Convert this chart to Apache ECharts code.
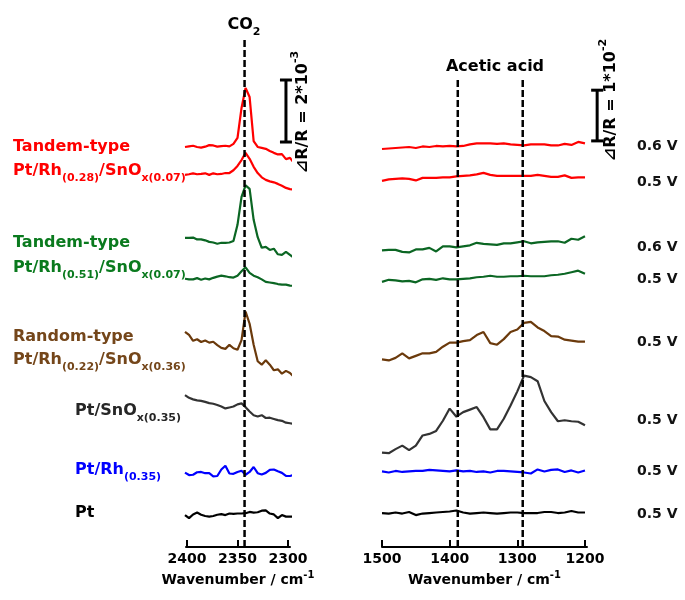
<!DOCTYPE html>
<html>
<head>
<meta charset="utf-8">
<script src="https://cdn.jsdelivr.net/npm/echarts@6/dist/echarts.min.js"></script>
<style>
  html, body { margin: 0; padding: 0; background: #fff; }
  #chart { width: 685px; height: 600px; }
</style>
</head>
<body>
<div id="chart"></div>
<script>
// ==================== Data ====================
// left panel: CO2 region, values are ΔR/R in units of 10^-3, relative to trace start
const leftWn = [2402, 2398, 2394, 2390, 2386, 2382, 2378, 2374, 2370, 2366, 2362, 2358, 2354, 2350,
  2346, 2342, 2338, 2334, 2330, 2326, 2322, 2318, 2314, 2310, 2306, 2302, 2298, 2294];
// right panel: acetic acid region, values are ΔR/R in units of 10^-2
const rightWn = [1500, 1490, 1480, 1470, 1460, 1450, 1440, 1430, 1420, 1410, 1400, 1390, 1380, 1370,
  1360, 1350, 1340, 1330, 1320, 1310, 1300, 1290, 1280, 1270, 1260, 1250, 1240, 1230, 1220, 1210, 1200];

const leftRed06 = [0, 0.02, 0.04, 0, -0.02, 0.01, 0.06, 0.05, 0.01, 0.03, 0.04, 0.02, 0.10, 0.29, 1.26, 1.90, 1.61, 0.19, 0, -0.03, -0.06, -0.13, -0.19, -0.24, -0.23, -0.39, -0.35, -0.52];
const leftRed05 = [0, 0.02, 0.05, 0.02, 0.03, 0.05, 0, 0.05, 0.02, 0.03, 0.06, 0.06, 0.15, 0.29, 0.48, 0.71, 0.52, 0.26, 0.06, -0.08, -0.16, -0.21, -0.24, -0.29, -0.35, -0.42, -0.46, -0.48];
const leftGreen06 = [0, 0, 0.01, -0.05, -0.05, -0.08, -0.13, -0.15, -0.19, -0.16, -0.16, -0.15, -0.10, 0.42, 1.32, 1.69, 1.58, 0.58, 0.02, -0.32, -0.29, -0.39, -0.35, -0.53, -0.55, -0.45, -0.55, -0.65];
const leftGreen05 = [0, -0.02, -0.02, 0.02, -0.03, 0.01, -0.02, 0.03, 0.07, 0.10, 0.08, 0.05, 0.04, 0.10, 0.24, 0.37, 0.19, 0.10, 0.05, -0.02, -0.10, -0.12, -0.14, -0.17, -0.19, -0.19, -0.22, -0.23];
const leftBrown = [0, -0.10, -0.29, -0.24, -0.33, -0.28, -0.35, -0.32, -0.43, -0.52, -0.55, -0.42, -0.53, -0.58, -0.27, 0.65, 0.26, -0.42, -0.95, -1.06, -0.92, -1.06, -1.24, -1.21, -1.35, -1.26, -1.33, -1.45];
const leftGray = [0, -0.09, -0.14, -0.17, -0.19, -0.22, -0.26, -0.28, -0.32, -0.37, -0.43, -0.40, -0.37, -0.30, -0.27, -0.39, -0.53, -0.65, -0.69, -0.65, -0.74, -0.73, -0.77, -0.81, -0.83, -0.89, -0.91, -0.94];
const leftBlue = [0.01, -0.07, -0.06, 0.02, 0.03, -0.01, -0.01, -0.11, -0.10, 0.11, 0.23, -0.02, -0.03, 0.03, 0.07, -0.06, 0.03, 0.19, -0.01, -0.05, 0, 0.10, 0.11, 0.05, 0, -0.10, -0.10, -0.06];
const leftBlack = [0, -0.10, 0.02, 0.08, 0.01, -0.03, -0.05, -0.03, 0.01, 0.03, 0, 0.05, 0.04, 0.05, 0.05, 0.06, 0.10, 0.08, 0.09, 0.14, 0.15, 0.05, 0.02, -0.10, 0, -0.05, -0.05, -0.05];

const rightRed06 = [0, 0.01, 0.02, 0.03, 0.04, 0.02, 0.05, 0.04, 0.06, 0.05, 0.06, 0.05, 0.06, 0.09, 0.11, 0.11, 0.11, 0.10, 0.11, 0.09, 0.08, 0.07, 0.09, 0.09, 0.09, 0.07, 0.07, 0.10, 0.08, 0.14, 0.11];
const rightRed05 = [0, 0.03, 0.04, 0.05, 0.04, 0.01, 0.06, 0.06, 0.06, 0.07, 0.07, 0.09, 0.10, 0.11, 0.13, 0.16, 0.12, 0.10, 0.10, 0.10, 0.10, 0.10, 0.10, 0.12, 0.10, 0.08, 0.08, 0.11, 0.06, 0.07, 0.07];
const rightGreen06 = [0.01, 0.02, 0.02, -0.02, -0.03, 0.03, 0.03, 0.06, -0.01, 0.09, 0.09, 0.07, 0.09, 0.11, 0.16, 0.14, 0.13, 0.12, 0.15, 0.15, 0.17, 0.19, 0.15, 0.17, 0.18, 0.19, 0.19, 0.16, 0.24, 0.22, 0.29];
const rightGreen05 = [0, 0.04, 0.03, 0.01, 0.02, -0.01, 0.05, 0.06, 0.04, 0.07, 0.05, 0.05, 0.06, 0.07, 0.09, 0.10, 0.12, 0.10, 0.10, 0.11, 0.11, 0.12, 0.11, 0.11, 0.11, 0.13, 0.14, 0.16, 0.19, 0.22, 0.16];
const rightBrown = [0.01, -0.01, 0.04, 0.13, 0.03, 0.08, 0.13, 0.13, 0.16, 0.26, 0.34, 0.34, 0.37, 0.39, 0.49, 0.55, 0.33, 0.30, 0.41, 0.55, 0.60, 0.73, 0.75, 0.64, 0.57, 0.47, 0.46, 0.40, 0.38, 0.36, 0.36];
const rightGray = [-0.01, -0.02, 0.06, 0.13, 0.04, 0.13, 0.33, 0.36, 0.42, 0.62, 0.86, 0.70, 0.79, 0.84, 0.89, 0.69, 0.45, 0.45, 0.66, 0.92, 1.20, 1.51, 1.48, 1.40, 1.01, 0.79, 0.61, 0.63, 0.61, 0.60, 0.53];
const rightBlue = [0.01, -0.01, 0.02, 0, 0.01, 0.02, 0.02, 0.04, 0.03, 0.02, 0.01, 0.03, 0.01, 0.02, 0, 0.01, -0.01, 0.02, 0.02, 0.01, 0, -0.01, -0.03, 0.05, 0.01, 0.04, 0.05, 0, 0.03, -0.01, 0.03];
const rightBlack = [0, -0.01, 0.01, -0.01, 0.02, -0.04, -0.01, 0, 0.01, 0.02, 0.03, 0.05, 0.01, -0.01, 0, 0.01, 0, -0.01, 0, 0.01, 0.01, 0, 0, 0, 0.02, 0.02, 0, 0.01, 0.04, 0.01, 0.01];

// vertical stacking offsets (same units as the panel)
const leftOffsets = [12.9, 12.0, 9.97, 8.65, 6.94, 4.90, 2.39, 1.03];
const rightOffsets = [7.85, 7.22, 5.84, 5.23, 3.69, 1.87, 1.48, 0.67];

const traceColors = ['#ff0000', '#ff0000', '#0b6623', '#0b6623', '#6b3a0c', '#333333', '#0000ff', '#000000'];
const voltages = ['0.6 V', '0.5 V', '0.6 V', '0.5 V', '0.5 V', '0.5 V', '0.5 V', '0.5 V'];

const leftTicks = [2300, 2350, 2400];
const rightTicks = [1200, 1300, 1400, 1500];
const co2Band = 2343;
const aceticBands = [1388, 1292];

const F = 'DejaVu Sans';

const leftTraces = [leftRed06, leftRed05, leftGreen06, leftGreen05, leftBrown, leftGray, leftBlue, leftBlack];
const rightTraces = [rightRed06, rightRed05, rightGreen06, rightGreen05, rightBrown, rightGray, rightBlue, rightBlack];

// ==================== Series ====================
function traceSeries(wn, vals, offset, color, idx) {
  return {
    type: 'line', xAxisIndex: idx, yAxisIndex: idx,
    data: wn.map((w, k) => [w, +(vals[k] + offset).toFixed(3)]),
    symbol: 'none', clip: false, silent: true,
    lineStyle: { color, width: 2.2 }, z: 3
  };
}

function dashLine(idx, x, y0, y1) {
  return {
    type: 'line', xAxisIndex: idx, yAxisIndex: idx,
    data: [[x, y0], [x, y1]], symbol: 'none', clip: false, silent: true,
    lineStyle: { color: '#000', width: 2.5, type: [7, 3] }, z: 5
  };
}

function scaleBar(idx, x, y0, y1) {
  return {
    type: 'custom', xAxisIndex: idx, yAxisIndex: idx, clip: false, silent: true, z: 6,
    data: [[x, y0, y1]],
    renderItem(params, api) {
      const a = api.coord([api.value(0), api.value(1)]);
      const b = api.coord([api.value(0), api.value(2)]);
      const st = { stroke: '#000', lineWidth: 3 };
      return {
        type: 'group', children: [
          { type: 'line', shape: { x1: a[0], y1: a[1], x2: b[0], y2: b[1] }, style: st },
          { type: 'line', shape: { x1: a[0] - 6, y1: a[1], x2: a[0] + 6, y2: a[1] }, style: st },
          { type: 'line', shape: { x1: b[0] - 6, y1: b[1], x2: b[0] + 6, y2: b[1] }, style: st }
        ]
      };
    }
  };
}

const series = [];
leftTraces.forEach((t, i) => series.push(traceSeries(leftWn, t, leftOffsets[i], traceColors[i], 0)));
rightTraces.forEach((t, i) => series.push(traceSeries(rightWn, t, rightOffsets[i], traceColors[i], 1)));
series.push(dashLine(0, co2Band, 0, 16.35));
aceticBands.forEach(b => series.push(dashLine(1, b, 0, 9.23)));
series.push(scaleBar(0, 2302, 13.06, 15.06));   // 2*10^-3
series.push(scaleBar(1, 1182, 8.01, 9.01));     // 1*10^-2

// ==================== Text ====================
function richFor(color, size) {
  return {
    m: { fontSize: size, fontWeight: 'bold', fontFamily: F, fill: color, color, lineHeight: 26, verticalAlign: 'middle' },
    s: { fontSize: 11, fontWeight: 'bold', fontFamily: F, fill: color, color, lineHeight: 12, verticalAlign: 'bottom' },
    u: { fontSize: 11, fontWeight: 'bold', fontFamily: F, fill: color, color, lineHeight: 12, verticalAlign: 'top' }
  };
}

function label(text, x, y, color, opts) {
  opts = opts || {};
  return {
    type: 'text', x, y, rotation: opts.rotation || 0, silent: true, z: 10,
    style: {
      text, rich: richFor(color, opts.size || 16), fill: color,
      align: opts.align || 'left', textAlign: opts.align || 'left',
      verticalAlign: 'middle', textVerticalAlign: 'middle'
    }
  };
}

const red = '#ff0000', green = '#0a7a1e', brown = '#74461a', gray = '#262626';
const graphics = [
  label('{m|Tandem-type}', 13, 147, red),
  label('{m|Pt/Rh}{s|(0.28)}{m|/SnO}{s|x(0.07)}', 13, 171, red),
  label('{m|Tandem-type}', 13, 243, green),
  label('{m|Pt/Rh}{s|(0.51)}{m|/SnO}{s|x(0.07)}', 13, 268, green),
  label('{m|Random-type}', 13, 337, brown),
  label('{m|Pt/Rh}{s|(0.22)}{m|/SnO}{s|x(0.36)}', 13, 360, brown),
  label('{m|Pt/SnO}{s|x(0.35)}', 75, 411, gray),
  label('{m|Pt/Rh}{s|(0.35)}', 75, 470, '#0000ff'),
  label('{m|Pt}', 75, 513, '#000'),
  label('{m|CO}{s|2}', 244, 25, '#000', { align: 'center' }),
  label('{m|Acetic acid}', 495, 67, '#000', { align: 'center' }),
  label('{m|⊿R/R = 2*10}{u|-3}', 303, 112, '#000', { align: 'center', rotation: Math.PI / 2 }),
  label('{m|⊿R/R = 1*10}{u|-2}', 611, 100, '#000', { align: 'center', rotation: Math.PI / 2 })
];
const voltageY = [146, 182, 247, 279, 342, 420, 471, 514];
voltages.forEach((v, i) => graphics.push(label('{m|' + v + '}', 637, voltageY[i], '#111', { size: 14 })));

// ==================== Axes ====================
function xAxisFor(idx, min, max, ticks) {
  return {
    gridIndex: idx, type: 'value', min, max, inverse: true,
    axisLine: { show: true, onZero: false, lineStyle: { color: '#000', width: 2 } },
    axisTick: { show: true, inside: true, length: 7, customValues: ticks, lineStyle: { color: '#000', width: 2 } },
    axisLabel: {
      customValues: ticks, formatter: v => String(v),
      color: '#000', fontSize: 14, fontWeight: 'bold', fontFamily: F, margin: 5
    },
    splitLine: { show: false },
    name: '{a|Wavenumber / cm}{b|-1}', nameLocation: 'middle', nameGap: 22,
    nameTextStyle: {
      rich: {
        a: { fontSize: 14, fontWeight: 'bold', fontFamily: F, color: '#000', lineHeight: 18, verticalAlign: 'middle' },
        b: { fontSize: 10, fontWeight: 'bold', fontFamily: F, color: '#000', lineHeight: 10, verticalAlign: 'top' }
      }
    }
  };
}

const chart = echarts.init(document.getElementById('chart'), null, { renderer: 'canvas' });
chart.setOption({
  animation: false,
  backgroundColor: '#fff',
  grid: [
    { left: 186, width: 104, top: 40, height: 507 },
    { left: 382, width: 205, top: 40, height: 507 }
  ],
  xAxis: [xAxisFor(0, 2298, 2401, leftTicks), xAxisFor(1, 1197, 1500, rightTicks)],
  yAxis: [
    { gridIndex: 0, type: 'value', min: 0, max: 16.35, show: false },
    { gridIndex: 1, type: 'value', min: 0, max: 10, show: false }
  ],
  series,
  graphic: graphics
});
</script>
</body>
</html>
